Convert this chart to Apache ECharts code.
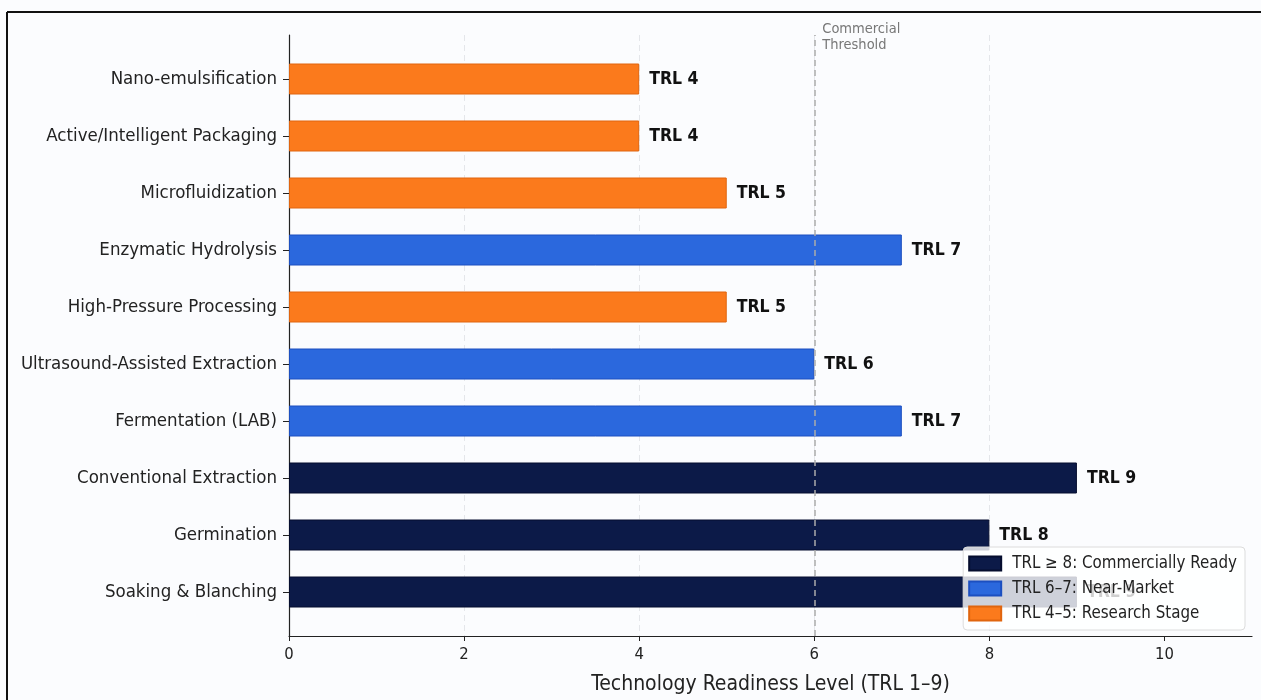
<!DOCTYPE html>
<html>
<head>
<meta charset="utf-8">
<script src="https://cdn.jsdelivr.net/npm/echarts@6/dist/echarts.min.js"></script>
<style>
  html, body { margin: 0; padding: 0; background: #fbfcfe; }
  #main { width: 1261px; height: 700px; }
</style>
</head>
<body>
<div id="main"></div>
<script>
// data, top to bottom
var categories = ["Nano-emulsification", "Active/Intelligent Packaging", "Microfluidization",
  "Enzymatic Hydrolysis", "High-Pressure Processing", "Ultrasound-Assisted Extraction",
  "Fermentation (LAB)", "Conventional Extraction", "Germination", "Soaking & Blanching"];
var trlValues = [4, 4, 5, 7, 5, 6, 7, 9, 8, 9];
var xTicks = [0, 2, 4, 6, 8, 10];
var thresholdValue = 6;
var stageNames = ["TRL \u2265 8: Commercially Ready", "TRL 6\u20137: Near-Market", "TRL 4\u20135: Research Stage"];
var stageColors = ["#0c1a48", "#2b68dd", "#fb7a1c"];
var stageBorders = ["#050d2e", "#1c4fc0", "#e0650e"];

var FONT = "'DejaVu Sans Condensed', 'DejaVu Sans', sans-serif";

function stageOf(v) {
  if (v >= 8) return 0;
  if (v >= 6) return 1;
  return 2;
}

var myChart = echarts.init(document.getElementById("main"));

// one bar series per stage so the legend matches; stacked so they share a slot
var barSeries = stageNames.map(function (name, s) {
  return {
    name: name,
    type: "bar",
    xAxisIndex: 1,
    yAxisIndex: 1,
    stack: "trl",
    barWidth: 31,
    itemStyle: { color: stageColors[s], borderColor: stageBorders[s], borderWidth: 1 },
    label: {
      show: true,
      position: "right",
      distance: 10,
      formatter: "TRL {c}",
      fontFamily: FONT,
      fontWeight: "bold",
      fontSize: 17.5,
      color: "#111"
    },
    data: trlValues.map(function (v) { return stageOf(v) === s ? v : "-"; })
  };
});

var option = {
  backgroundColor: "#fbfcfe",
  animation: false,
  textStyle: { fontFamily: FONT },
  grid: [
    // frame grid: axes, spines, gridlines
    { left: 289, right: 9, top: 35, bottom: 64 },
    // bar grid: inset like matplotlib margins
    { left: 289, right: 9, top: 50.5, bottom: 79.5 }
  ],
  xAxis: [
    {
      gridIndex: 0,
      type: "value",
      min: 0,
      max: 11,
      name: "Technology Readiness Level (TRL 1\u20139)",
      nameLocation: "middle",
      nameGap: 38,
      nameTextStyle: { fontFamily: FONT, fontSize: 21, color: "#222" },
      axisLine: { show: true, lineStyle: { color: "#222", width: 1.2 } },
      axisTick: { show: true, length: 5, customValues: xTicks, lineStyle: { color: "#222" } },
      axisLabel: { customValues: xTicks, fontFamily: FONT, fontSize: 16.5, color: "#222", margin: 10 },
      splitLine: {
        show: true,
        showMinLine: false,
        showMaxLine: false,
        lineStyle: { color: "#e4e6ea", type: [6, 4], width: 1 }
      }
    },
    { gridIndex: 1, type: "value", min: 0, max: 11, show: false, splitLine: { show: false } }
  ],
  yAxis: [
    {
      gridIndex: 0,
      type: "value",
      min: 0,
      max: 1,
      axisLine: { show: true, lineStyle: { color: "#222", width: 1.2 } },
      axisTick: { show: false },
      axisLabel: { show: false },
      splitLine: { show: false }
    },
    {
      gridIndex: 1,
      type: "category",
      inverse: true,
      data: categories,
      axisLine: { show: false },
      axisTick: { show: true, alignWithLabel: true, length: 6, lineStyle: { color: "#222" } },
      axisLabel: { fontFamily: FONT, fontSize: 18.5, color: "#222", margin: 12 }
    }
  ],
  legend: {
    orient: "vertical",
    right: 16,
    top: 547,
    icon: "rect",
    itemWidth: 32,
    itemHeight: 14,
    itemGap: 8,
    padding: [8, 8, 8, 5],
    backgroundColor: "rgba(255,255,255,0.8)",
    borderColor: "#dcdcdc",
    borderWidth: 1,
    borderRadius: 4,
    textStyle: { fontFamily: FONT, fontSize: 16.8, color: "#222", padding: [0, 0, 0, 6] },
    data: stageNames
  },
  series: barSeries.concat([
    {
      // threshold line on the frame grid
      type: "line",
      xAxisIndex: 0,
      yAxisIndex: 0,
      data: [],
      silent: true,
      markLine: {
        symbol: "none",
        silent: true,
        label: { show: false },
        lineStyle: { color: "#aaaaaa", type: [6, 4], width: 1.5 },
        data: [{ xAxis: thresholdValue }]
      }
    }
  ])
};

myChart.setOption(option);

// threshold caption and picture frame
var px = myChart.convertToPixel({ xAxisIndex: 0 }, thresholdValue);
myChart.setOption({
  graphic: [
    {
      type: "text",
      left: px + 8,
      top: 21,
      style: {
        text: "Commercial\nThreshold",
        font: "14.5px " + FONT,
        fill: "#777",
        lineHeight: 16
      }
    },
    { type: "line", shape: { x1: 7, y1: 12, x2: 1261, y2: 12 }, style: { stroke: "#111", lineWidth: 2 } },
    { type: "line", shape: { x1: 7, y1: 12, x2: 7, y2: 700 }, style: { stroke: "#111", lineWidth: 2 } }
  ]
});

window.addEventListener("resize", function () {
  myChart.resize();
});
</script>
</body>
</html>
